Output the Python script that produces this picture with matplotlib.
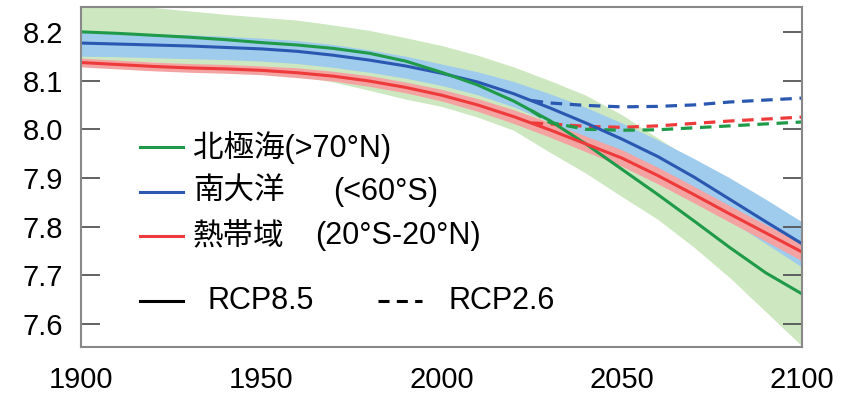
import numpy as np
import matplotlib
matplotlib.use("Agg")
import matplotlib.pyplot as plt

plt.rcParams['font.family'] = ['Liberation Sans', 'Noto Sans CJK JP', 'DejaVu Sans']

# RCP8.5 (solid lines + shaded ranges)
years = [1900, 1910, 1920, 1930, 1940, 1950, 1960, 1970, 1980, 1990, 2000,
         2010, 2020, 2030, 2040, 2050, 2060, 2070, 2080, 2090, 2100]
arctic = [8.200, 8.197, 8.193, 8.189, 8.184, 8.178, 8.173, 8.166, 8.156, 8.140, 8.117,
          8.091, 8.058, 8.018, 7.970, 7.918, 7.866, 7.812, 7.757, 7.705, 7.662]
arctic_lo = [8.142, 8.140, 8.138, 8.134, 8.128, 8.120, 8.110, 8.097, 8.080, 8.062, 8.047,
             8.025, 7.998, 7.953, 7.910, 7.862, 7.815, 7.758, 7.695, 7.625, 7.555]
arctic_hi = [8.260, 8.255, 8.250, 8.243, 8.236, 8.230, 8.224, 8.214, 8.203, 8.188, 8.172,
             8.152, 8.128, 8.100, 8.070, 8.030, 7.982, 7.935, 7.895, 7.850, 7.805]
south = [8.177, 8.175, 8.173, 8.171, 8.168, 8.165, 8.160, 8.152, 8.142, 8.130, 8.115,
         8.097, 8.073, 8.044, 8.013, 7.980, 7.944, 7.902, 7.856, 7.810, 7.765]
south_lo = [8.150, 8.149, 8.147, 8.145, 8.143, 8.140, 8.135, 8.127, 8.117, 8.105, 8.090,
            8.071, 8.046, 8.015, 7.981, 7.943, 7.903, 7.860, 7.813, 7.765, 7.717]
south_hi = [8.199, 8.198, 8.196, 8.194, 8.191, 8.187, 8.182, 8.174, 8.163, 8.150, 8.134,
            8.118, 8.098, 8.073, 8.045, 8.013, 7.978, 7.940, 7.900, 7.856, 7.810]
tropics = [8.137, 8.133, 8.129, 8.126, 8.124, 8.121, 8.116, 8.109, 8.099, 8.086, 8.070,
           8.050, 8.026, 7.999, 7.970, 7.941, 7.905, 7.866, 7.826, 7.787, 7.748]
tropics_lo = [8.128, 8.124, 8.120, 8.117, 8.115, 8.112, 8.106, 8.099, 8.088, 8.075, 8.058,
              8.037, 8.012, 7.984, 7.954, 7.924, 7.888, 7.849, 7.809, 7.770, 7.730]
tropics_hi = [8.146, 8.142, 8.138, 8.135, 8.133, 8.130, 8.126, 8.119, 8.110, 8.097, 8.082,
              8.063, 8.040, 8.014, 7.986, 7.958, 7.922, 7.883, 7.843, 7.804, 7.766]

# RCP2.6 (dashed)
years26 = [2025, 2030, 2040, 2050, 2060, 2070, 2080, 2090, 2100]
arctic26 = [8.038, 8.014, 8.000, 7.998, 7.999, 8.003, 8.007, 8.011, 8.015]
south26 = [8.059, 8.054, 8.049, 8.046, 8.047, 8.050, 8.056, 8.060, 8.064]
tropics26 = [8.013, 8.011, 8.006, 8.004, 8.007, 8.012, 8.017, 8.021, 8.025]

region_names = ['北極海', '南大洋', '熱帯域']
region_lats = ['(>70°N)', '(<60°S)', '(20°S-20°N)']
scenarios = ['RCP8.5', 'RCP2.6']

green, blue, red = '#1f9a48', '#2a58b0', '#ee3a3a'
dash = (3.6, 2.4)

fig = plt.figure(figsize=(8.59, 3.98), dpi=100)
ax = fig.add_axes([0.0943, 0.1281, 0.8394, 0.8543])

ax.fill_between(years, arctic_lo, arctic_hi, color='#cde7c0', lw=0)
ax.fill_between(years, south_lo, south_hi, color='#9fcbed', lw=0)
ax.fill_between(years, tropics_lo, tropics_hi, color='#f4a3a3', lw=0)

ax.plot(years26, south26, color=blue, lw=2.3, dashes=dash)
ax.plot(years26, tropics26, color=red, lw=2.3, dashes=dash)
ax.plot(years26, arctic26, color=green, lw=2.3, dashes=dash)

ax.plot(years, south, color=blue, lw=2.2)
ax.plot(years, arctic, color=green, lw=2.2)
ax.plot(years, tropics, color=red, lw=2.2)

ax.set_xlim(1900, 2100)
ax.set_ylim(7.553, 8.251)
ax.set_xticks([1900, 1950, 2000, 2050, 2100])
ax.set_xticks([1950, 2050], minor=True)
ax.set_yticks([7.6, 7.7, 7.8, 7.9, 8.0, 8.1, 8.2])
ax.set_yticklabels(['7.6', '7.7', '7.8', '7.9', '8.0', '8.1', '8.2'])
ax.tick_params(axis='x', which='major', length=0, pad=14, labelsize=21)
ax.tick_params(axis='x', which='minor', direction='in', length=11, width=2.3,
               color='black', top=True, bottom=True)
ax.tick_params(axis='y', direction='in', length=14, width=1.3, color='#555555',
               right=True, labelsize=21, pad=13)
for s in ax.spines.values():
    s.set_color('#888888')
    s.set_linewidth(1.5)

# legend drawn by hand (axes fractions)
rows_y = [0.588, 0.456, 0.326]
lat_x = [None, 0.3495, 0.3245]
for i, c in enumerate([green, blue, red]):
    ax.plot([0.0818, 0.1415], [rows_y[i]] * 2, color=c, lw=2.2,
            transform=ax.transAxes, clip_on=False)
    if lat_x[i] is None:
        ax.text(0.155, rows_y[i], region_names[i] + region_lats[i], fontsize=22,
                va='center', ha='left', transform=ax.transAxes)
    else:
        ax.text(0.155, rows_y[i], region_names[i], fontsize=22,
                va='center', ha='left', transform=ax.transAxes)
        ax.text(lat_x[i], rows_y[i], region_lats[i], fontsize=22,
                va='center', ha='left', transform=ax.transAxes)

ax.plot([0.0818, 0.1415], [0.135, 0.135], color='black', lw=2.2,
        transform=ax.transAxes, clip_on=False)
ax.text(0.176, 0.135, scenarios[0], fontsize=22, va='center', ha='left',
        transform=ax.transAxes)
ax.plot([0.412, 0.473], [0.135, 0.135], color='black', lw=2.2, dashes=dash,
        transform=ax.transAxes, clip_on=False)
ax.text(0.509, 0.135, scenarios[1], fontsize=22, va='center', ha='left',
        transform=ax.transAxes)

fig.savefig('out.png', dpi=100)
